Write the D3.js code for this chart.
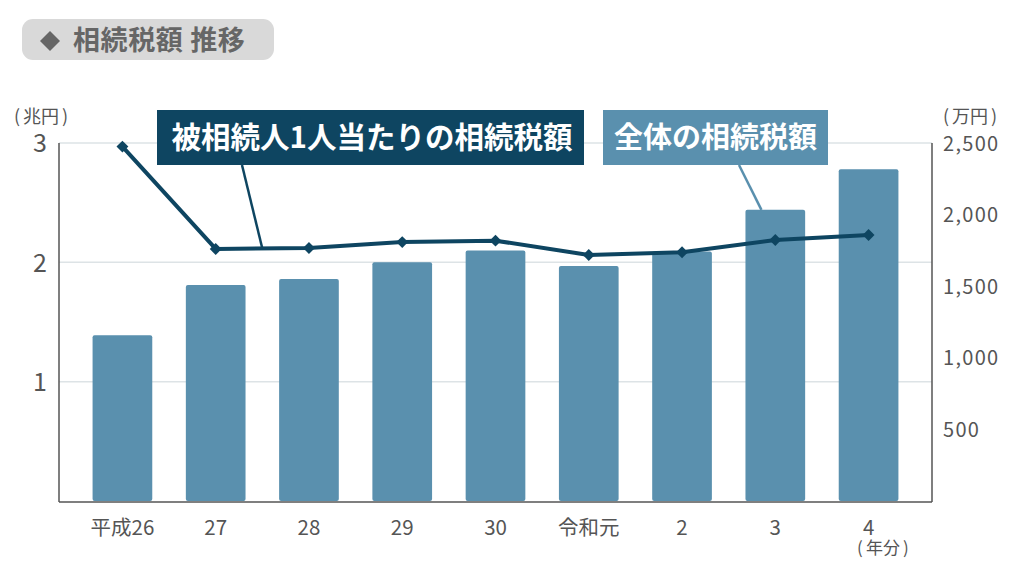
<!DOCTYPE html>
<html><head><meta charset="utf-8">
<script src="https://cdn.jsdelivr.net/npm/d3@7"></script>
<style>
html,body{margin:0;padding:0;background:#fff;}
svg{display:block;font-family:"Noto Sans CJK JP","Noto Sans",sans-serif;}
</style></head>
<body><svg id="c" width="1024" height="585"></svg>
<script>
const categories = ["平成26","27","28","29","30","令和元","2","3","4"];
const totalTax = [1.39,1.81,1.86,2.00,2.10,1.97,2.09,2.44,2.78];      // 兆円
const perPersonTax = [2475,1760,1767,1808,1818,1718,1737,1823,1858]; // 万円
const leftTicks = [1,2,3];
const rightTicks = [500,1000,1500,2000,2500];
const titleText = "相続税額 推移";
const legendLine = "被相続人1人当たりの相続税額";
const legendBar = "全体の相続税額";
const leftUnit = "兆円", rightUnit = "万円", xUnit = "年分";

const svg = d3.select("#c");
const L = 59, R = 932, T = 143, B = 501;
const FONT = "'Noto Sans CJK JP',sans-serif";

const x = d3.scaleBand().domain(categories).range([L, R]).paddingInner(0.36).paddingOuter(0.36);
const yL = d3.scaleLinear().domain([0,3]).range([B, T]);
const yR = d3.scaleLinear().domain([0,2500]).range([B, T]);
const cx = c => x(c) + x.bandwidth()/2;

function unitLabel(x0, y, label, size) {
  const t = svg.append("text").attr("y", y).attr("font-size", size).attr("fill", "#555");
  t.append("tspan").attr("x", x0).text("(");
  t.append("tspan").attr("x", x0 + 9).text(label);
  t.append("tspan").attr("x", x0 + 9 + label.length * size + 3).text(")");
}

// title
svg.append("rect").attr("x",22).attr("y",19).attr("width",252).attr("height",41).attr("rx",11).attr("fill","#d9d9d9");
svg.append("path").attr("d","M50,31 L60,41 L50,51 L40,41 Z").attr("fill","#666");
svg.append("text").attr("x",73).attr("y",50).attr("font-size",27).attr("font-weight",700).attr("letter-spacing",0.6).attr("fill","#666").text(titleText);

// gridlines
svg.append("g").selectAll("line").data(leftTicks).join("line")
  .attr("x1",L).attr("x2",R).attr("y1",d=>yL(d)).attr("y2",d=>yL(d))
  .attr("stroke","#dde3e6").attr("stroke-width",1.5);

// bars
svg.append("g").selectAll("rect").data(totalTax).join("rect")
  .attr("x",(d,i)=>x(categories[i])).attr("width",x.bandwidth())
  .attr("y",d=>yL(d)).attr("height",d=>B-yL(d)).attr("rx",2)
  .attr("fill","#5a90ae");

// axes lines
const axG = svg.append("g").attr("stroke","#555").attr("stroke-width",1.5);
axG.append("line").attr("x1",L).attr("x2",L).attr("y1",T).attr("y2",B+1);
axG.append("line").attr("x1",R).attr("x2",R).attr("y1",T).attr("y2",B+1);
axG.append("line").attr("x1",L).attr("x2",R).attr("y1",B+1).attr("y2",B+1);

// left axis
const la = d3.axisLeft(yL).tickValues(leftTicks).tickSize(0).tickPadding(0).tickFormat(d3.format("d"));
const lg = svg.append("g").attr("transform",`translate(${L-12},0)`).call(la);
lg.select(".domain").remove();
lg.selectAll("text").attr("font-size",25).attr("fill","#555").attr("font-family",FONT).attr("dy","0.35em").attr("x",0).attr("text-anchor","end");
unitLabel(14, 123, leftUnit, 18);

// right axis
const ra = d3.axisRight(yR).tickValues(rightTicks).tickSize(0).tickPadding(0).tickFormat(d3.format(","));
const rg = svg.append("g").attr("transform",`translate(${R+11},0)`).call(ra);
rg.select(".domain").remove();
rg.selectAll("text").attr("font-size",20).attr("letter-spacing",1.3).attr("fill","#555").attr("font-family",FONT).attr("dy","0.35em");
unitLabel(943, 123, rightUnit, 18);

// bottom axis
const ba = d3.axisBottom(x).tickSize(0).tickPadding(0);
const bg = svg.append("g").attr("transform",`translate(0,${B+27})`).call(ba);
bg.select(".domain").remove();
bg.selectAll("text").attr("font-size",20.5).attr("fill","#555").attr("font-family",FONT).attr("dy","0.35em");
unitLabel(857, 554, xUnit, 17);

// line
const line = d3.line().x((d,i)=>cx(categories[i])).y(d=>yR(d));
svg.append("path").datum(perPersonTax).attr("d",line).attr("fill","none")
  .attr("stroke","#0e4561").attr("stroke-width",4).attr("stroke-linejoin","round");
svg.append("g").selectAll("path").data(perPersonTax).join("path")
  .attr("transform",(d,i)=>`translate(${cx(categories[i])},${yR(d)})`)
  .attr("d",d3.symbol(d3.symbolDiamond2,90)()).attr("fill","#0e4561");

// leader lines
const lx1 = cx(categories[1]) + (cx(categories[2])-cx(categories[1]))*0.5;
const ly1 = yR((perPersonTax[1]+perPersonTax[2])/2);
svg.append("line").attr("x1",242).attr("y1",165).attr("x2",lx1).attr("y2",ly1).attr("stroke","#0e4561").attr("stroke-width",2.5);
svg.append("line").attr("x1",739).attr("y1",165).attr("x2",x(categories[7])+16).attr("y2",yL(totalTax[7])).attr("stroke","#5a90ae").attr("stroke-width",2.5);

// legend boxes
svg.append("rect").attr("x",157).attr("y",110).attr("width",427).attr("height",55).attr("fill","#0e4561");
svg.append("text").attr("x",372).attr("y",148).attr("text-anchor","middle").attr("font-size",29.5).attr("font-weight",700).attr("fill","#fff").text(legendLine);
svg.append("rect").attr("x",603).attr("y",110).attr("width",225).attr("height",55).attr("fill","#5a90ae");
svg.append("text").attr("x",715.5).attr("y",148).attr("text-anchor","middle").attr("font-size",29).attr("font-weight",700).attr("fill","#fff").text(legendBar);
</script></body></html>
